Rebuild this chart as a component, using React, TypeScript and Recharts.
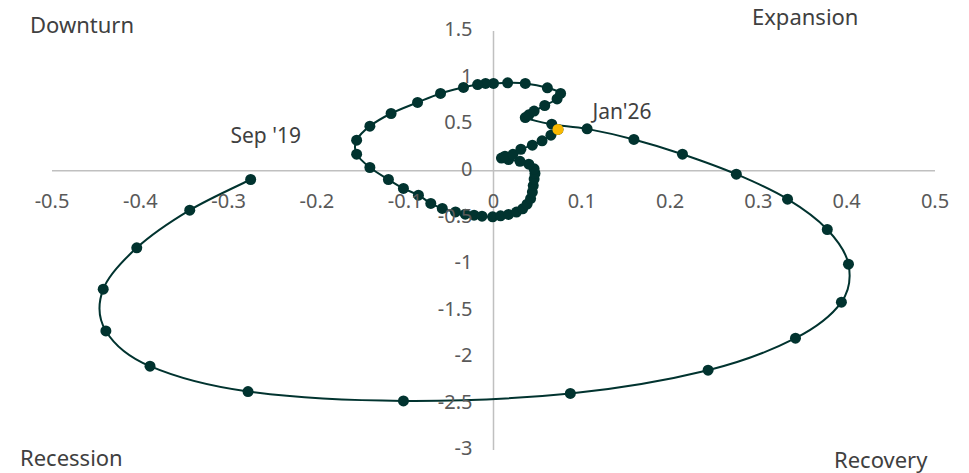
import React from 'react';
import { ScatterChart, Scatter, XAxis, YAxis, ReferenceLine } from 'recharts';

// Monthly path, Sep '19 .. Jan'26 (x = horizontal reading, y = vertical reading)
const xValues = [
  -0.275, -0.344, -0.404, -0.442, -0.439, -0.389, -0.278, -0.102, 0.087, 0.243,
  0.342, 0.394, 0.402, 0.378, 0.333, 0.275, 0.214, 0.159, 0.106, 0.066,
  0.036, 0.04, 0.046, 0.058, 0.072, 0.076, 0.061, 0.036, 0.016, 0.0,
  -0.009, -0.018, -0.034, -0.06, -0.086, -0.116, -0.14, -0.155, -0.155, -0.14,
  -0.119, -0.102, -0.085, -0.071, -0.058, -0.043, -0.032, -0.022, -0.013, -0.001,
  0.008, 0.017, 0.026, 0.033, 0.038, 0.042, 0.044, 0.045, 0.046, 0.047,
  0.046, 0.04, 0.03, 0.017, 0.009, 0.013, 0.022, 0.031, 0.044, 0.055,
  0.065, 0.073,
];
const yValues = [
  -0.095, -0.424, -0.829, -1.273, -1.721, -2.1, -2.372, -2.473, -2.393, -2.143,
  -1.799, -1.412, -1.004, -0.632, -0.306, -0.038, 0.177, 0.335, 0.449, 0.499,
  0.57, 0.6, 0.64, 0.7, 0.77, 0.83, 0.89, 0.937, 0.943, 0.937,
  0.937, 0.925, 0.894, 0.829, 0.733, 0.614, 0.478, 0.328, 0.177, 0.034,
  -0.095, -0.191, -0.263, -0.352, -0.406, -0.443, -0.467, -0.478, -0.489, -0.496,
  -0.485, -0.47, -0.445, -0.41, -0.36, -0.3, -0.23, -0.16, -0.09, -0.03,
  0.02, 0.07, 0.1, 0.12, 0.135, 0.155, 0.175, 0.23, 0.274, 0.32,
  0.381, 0.443,
];
const firstLabel = "Sep '19";
const lastLabel = "Jan'26";

const xTicks = [-0.5, -0.4, -0.3, -0.2, -0.1, 0, 0.1, 0.2, 0.3, 0.4, 0.5];
const yTicks = [1.5, 1, 0.5, 0, -0.5, -1, -1.5, -2, -2.5, -3];

const quadrants = [
  { text: 'Downturn', left: 30, top: 11 },
  { text: 'Expansion', left: 752, top: 3 },
  { text: 'Recession', left: 20, top: 444 },
  { text: 'Recovery', left: 834, top: 446 },
];

const labelOffsets: Record<string, [number, number]> = {
  "Sep '19": [15, -42],
  "Jan'26": [64, -16],
};

const W = 969;
const H = 473;
// axes take 1px each, so the plot runs 52..935 x 31..450
const M = { top: 31, right: 34, bottom: 22, left: 51 };
const X_MIN = -0.5;
const X_MAX = 0.5;
const Y_MIN = -3;
const Y_MAX = 1.5;
const plotLeft = M.left + 1;
const plotW = W - plotLeft - M.right;
const plotH = H - M.top - M.bottom - 1;
const zeroX = plotLeft + (plotW * (0 - X_MIN)) / (X_MAX - X_MIN);
const zeroY = M.top + (plotH * Y_MAX) / (Y_MAX - Y_MIN);

const DOT = '#01332f';
const GOLD = '#f8b800';
const FONT = '"Noto Sans", "Open Sans", sans-serif';
const TICK_COLOR = '#595959';
const TEXT_COLOR = '#404040';

const points = xValues.map((x, i) => ({
  x,
  y: yValues[i],
  tag: i === 0 ? firstLabel : '',
}));
const latest = [{ ...points[points.length - 1], tag: lastLabel }];

// Catmull-Rom smoothing, close to the spreadsheet "smoothed line"
const smoothCurve = (context: any) => {
  let pts: number[][] = [];
  return {
    areaStart() {},
    areaEnd() {},
    lineStart() {
      pts = [];
    },
    point(x: number, y: number) {
      pts.push([+x, +y]);
    },
    lineEnd() {
      if (!pts.length) return;
      context.moveTo(pts[0][0], pts[0][1]);
      for (let i = 0; i < pts.length - 1; i++) {
        const p0 = pts[i - 1] || pts[i];
        const p1 = pts[i];
        const p2 = pts[i + 1];
        const p3 = pts[i + 2] || p2;
        context.bezierCurveTo(
          p1[0] + (p2[0] - p0[0]) / 6,
          p1[1] + (p2[1] - p0[1]) / 6,
          p2[0] - (p3[0] - p1[0]) / 6,
          p2[1] - (p3[1] - p1[1]) / 6,
          p2[0],
          p2[1]
        );
      }
    },
  };
};

const makeDot = (fill: string) => (props: any) => {
  const { cx, cy } = props;
  const tag = props.tag ?? props.payload?.tag;
  const off = tag ? labelOffsets[tag] : null;
  return (
    <g>
      <circle cx={cx} cy={cy} r={5.5} fill={fill} />
      {tag && off && (
        <text
          x={cx + off[0]}
          y={cy + off[1]}
          textAnchor="middle"
          dominantBaseline="middle"
          fill={TEXT_COLOR}
          fontSize={21}
          fontFamily={FONT}
        >
          {tag}
        </text>
      )}
    </g>
  );
};

const XTick = (props: any) => (
  <text
    x={props.x}
    y={zeroY + 32}
    textAnchor="middle"
    dominantBaseline="middle"
    fill={TICK_COLOR}
    fontSize={20}
    fontFamily={FONT}
  >
    {props.payload.value}
  </text>
);

const YTick = (props: any) => (
  <text
    x={zeroX - 21}
    y={props.y}
    textAnchor="end"
    dominantBaseline="middle"
    fill={TICK_COLOR}
    fontSize={20}
    fontFamily={FONT}
  >
    {props.payload.value}
  </text>
);

export default function App() {
  return (
    <div
      style={{
        position: 'absolute',
        left: 0,
        top: 0,
        width: W,
        height: H,
        background: '#ffffff',
        fontFamily: FONT,
      }}
    >
      <ScatterChart width={W} height={H} margin={M}>
        <XAxis
          type="number"
          dataKey="x"
          domain={[X_MIN, X_MAX]}
          ticks={xTicks}
          height={1}
          axisLine={false}
          tickLine={false}
          tick={(p: any) => <XTick {...p} />}
          interval={0}
          allowDataOverflow
        />
        <YAxis
          type="number"
          dataKey="y"
          domain={[Y_MIN, Y_MAX]}
          ticks={yTicks}
          width={1}
          axisLine={false}
          tickLine={false}
          tick={(p: any) => <YTick {...p} />}
          interval={0}
          allowDataOverflow
        />
        <ReferenceLine y={0} stroke="#c0c0c0" strokeWidth={1.5} />
        <ReferenceLine x={0} stroke="#c0c0c0" strokeWidth={1.5} />
        <Scatter
          data={points}
          line={{ stroke: DOT, strokeWidth: 2 }}
          lineJointType={smoothCurve as any}
          shape={makeDot(DOT)}
          isAnimationActive={false}
        />
        <Scatter data={latest} shape={makeDot(GOLD)} isAnimationActive={false} />
      </ScatterChart>
      {quadrants.map((q) => (
        <div
          key={q.text}
          style={{
            position: 'absolute',
            left: q.left,
            top: q.top,
            fontSize: 22,
            lineHeight: '26px',
            color: TEXT_COLOR,
            whiteSpace: 'nowrap',
          }}
        >
          {q.text}
        </div>
      ))}
    </div>
  );
}
